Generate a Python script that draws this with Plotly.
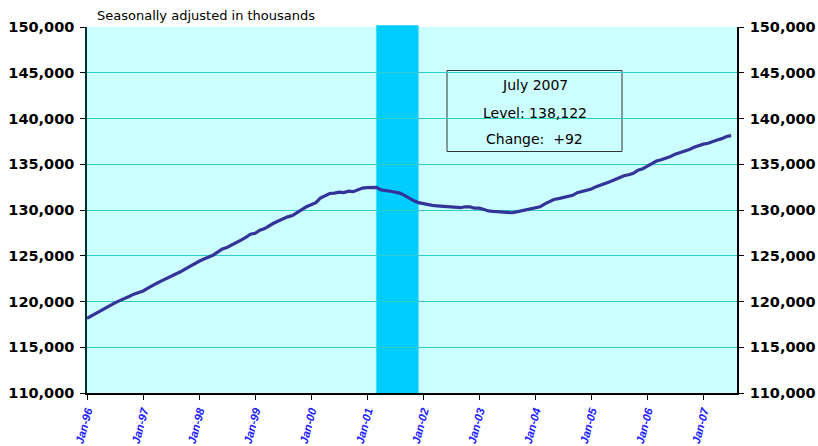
import plotly.graph_objects as go

# Monthly total nonfarm employment, seasonally adjusted, thousands (Jan 1996 - Jul 2007)
years = list(range(1996, 2008))
values_1996 = [118150, 118450, 118750, 118950, 119250, 119600, 119850, 120100, 120300, 120550, 120800, 120950]
values_1997 = [121150, 121450, 121750, 122000, 122250, 122500, 122750, 122950, 123250, 123550, 123850, 124150]
values_1998 = [124400, 124650, 124800, 125050, 125400, 125750, 125900, 126150, 126400, 126700, 127000, 127350]
values_1999 = [127450, 127800, 127950, 128300, 128550, 128800, 129050, 129250, 129400, 129750, 130050, 130350]
values_2000 = [130600, 130800, 131300, 131600, 131800, 131850, 131950, 131900, 132050, 132000, 132200, 132400]
values_2001 = [132450, 132500, 132480, 132200, 132150, 132050, 131950, 131850, 131600, 131300, 131000, 130800]
values_2002 = [130700, 130550, 130500, 130450, 130400, 130350, 130300, 130300, 130250, 130350, 130350, 130200]
values_2003 = [130200, 130050, 129900, 129850, 129800, 129800, 129750, 129700, 129800, 129900, 130000, 130100]
values_2004 = [130250, 130350, 130650, 130900, 131150, 131250, 131350, 131450, 131600, 131900, 132050, 132150]
values_2005 = [132300, 132550, 132700, 132950, 133100, 133300, 133550, 133750, 133850, 134000, 134350, 134500]
values_2006 = [134800, 135100, 135350, 135500, 135650, 135850, 136100, 136250, 136400, 136600, 136850, 137050]
values_2007 = [137200, 137300, 137500, 137650, 137800, 138030, 138122]

all_values = (values_1996 + values_1997 + values_1998 + values_1999 + values_2000 + values_2001 +
              values_2002 + values_2003 + values_2004 + values_2005 + values_2006 + values_2007)
dates = [f"{1996 + i // 12}-{i % 12 + 1:02d}-01" for i in range(len(all_values))]

tick_dates = [f"{y}-01-01" for y in years]
tick_labels = [f"Jan-{str(y)[2:]}" for y in years]

recession_start = "2001-03-01"
recession_end = "2001-12-01"

box_lines = ["July 2007", "Level: 138,122", "Change:  +92"]
subtitle = "Seasonally adjusted in thousands"

y_ticks = list(range(110000, 150001, 5000))

fig = go.Figure()
fig.add_trace(go.Scatter(x=dates, y=all_values, mode="lines",
                         line=dict(color="#333399", width=3.2), showlegend=False,
                         hoverinfo="x+y"))
fig.add_trace(go.Scatter(x=dates, y=all_values, mode="lines", yaxis="y2",
                         line=dict(color="rgba(0,0,0,0)", width=0), showlegend=False,
                         hoverinfo="skip"))

fig.add_shape(type="rect", xref="x", yref="paper", x0=recession_start, x1=recession_end,
              y0=0, y1=1.005, fillcolor="#00CCFF", line=dict(width=0), layer="between")

# info box
fig.add_shape(type="rect", xref="paper", yref="paper",
              x0=(447 - 87) / 650, x1=(622 - 87) / 650,
              y0=(393 - 151.5) / 366, y1=(393 - 70.5) / 366,
              fillcolor="#CCFFFF", line=dict(color="#333333", width=1), layer="between")
for i, t in enumerate(box_lines):
    yc = [85, 112.5, 138.5][i]
    fig.add_annotation(text=t, xref="paper", yref="paper",
                       x=(534.5 - 87) / 650, y=(393 - yc) / 366,
                       showarrow=False, xanchor="center", yanchor="middle",
                       font=dict(family="DejaVu Sans", size=14, color="#000000"))

fig.add_annotation(text=subtitle, xref="paper", yref="paper", x=(95 - 87) / 650, y=1.0,
                   xanchor="left", yanchor="bottom", showarrow=False, yshift=2,
                   font=dict(family="DejaVu Sans", size=13, color="#000000"))

yfont = dict(family="DejaVu Sans", size=14.5, color="#000000", weight="bold")

fig.update_layout(
    width=818, height=446,
    margin=dict(l=87, r=81, t=27, b=53),
    paper_bgcolor="#FFFFFF", plot_bgcolor="#CCFFFF",
    xaxis=dict(type="date", range=["1996-01-01", "2007-08-08"], automargin=False,
               tickvals=tick_dates, ticktext=tick_labels, tickangle=-75,
               tickfont=dict(family="Liberation Sans", size=11.5, color="#2222FF", style="italic", weight="bold"),
               showgrid=False, showline=True, linecolor="#000000", linewidth=1.5,
               ticks="outside", ticklen=5, tickcolor="#000000", zeroline=False),
    yaxis=dict(range=[110000, 150000], tickvals=y_ticks, tickformat=",d", automargin=False,
               tickfont=yfont, ticklabelstandoff=3,
               showgrid=True, gridcolor="#33CCCC", gridwidth=1,
               showline=True, linecolor="#003333", linewidth=1.5,
               ticks="outside", ticklen=5, tickcolor="#000000", zeroline=False),
    yaxis2=dict(range=[110000, 150000], tickvals=y_ticks, tickformat=",d", overlaying="y", side="right",
                tickfont=yfont, automargin=False, ticklabelstandoff=3,
                showgrid=False, showline=True, linecolor="#000000", linewidth=1.5,
                ticks="outside", ticklen=5, tickcolor="#000000", zeroline=False),
)

fig.write_html("out.html", config={"displayModeBar": False},
               post_script="document.body.style.margin='0';document.body.style.padding='0';")
